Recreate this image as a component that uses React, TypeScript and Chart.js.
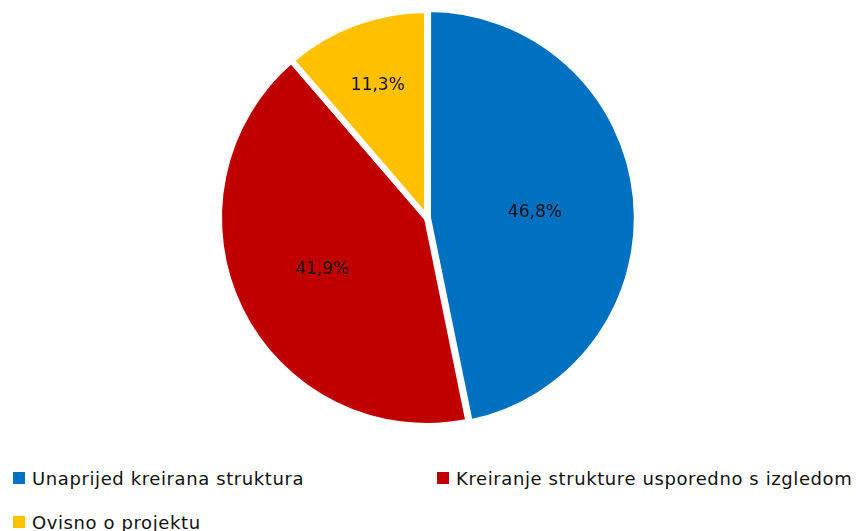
import React, { useEffect, useRef } from "react";
import { Chart, registerables } from "chart.js";

Chart.register(...registerables);

const categories = [
  "Unaprijed kreirana struktura",
  "Kreiranje strukture usporedno s izgledom",
  "Ovisno o projektu",
];
const values = [46.8, 41.9, 11.3];
const colors = ["#0070C0", "#C00000", "#FFC000"];
const sliceOffsets = [4, 0, 0];
const labelRadiusFactors = [0.5, 0.56, 0.68];
const labelAngleShiftDeg = [3, 0, 0];

const FONT = "'DejaVu Sans', sans-serif";

const labelPlugin = {
  id: "sliceLabels",
  afterDatasetsDraw(chart: any) {
    const ctx = chart.ctx;
    const meta = chart.getDatasetMeta(0);
    ctx.save();
    ctx.fillStyle = "#111111";
    ctx.font = `17px ${FONT}`;
    ctx.textAlign = "center";
    ctx.textBaseline = "middle";
    meta.data.forEach((arc: any, i: number) => {
      const { x, y, startAngle, endAngle, outerRadius } = arc.getProps(
        ["x", "y", "startAngle", "endAngle", "outerRadius"],
        true
      );
      const mid = (startAngle + endAngle) / 2 + (labelAngleShiftDeg[i] * Math.PI) / 180;
      const r = outerRadius * labelRadiusFactors[i] + sliceOffsets[i];
      const px = x + Math.cos(mid) * r;
      const py = y + Math.sin(mid) * r;
      const txt = values[i].toFixed(1).replace(".", ",") + "%";
      ctx.fillText(txt, px, py);
    });
    ctx.restore();
  },
};

export default function App() {
  const ref = useRef<HTMLCanvasElement>(null);
  useEffect(() => {
    if (!ref.current) return;
    const chart = new Chart(ref.current, {
      type: "pie",
      data: {
        labels: categories,
        datasets: [
          {
            data: values,
            backgroundColor: colors,
            borderColor: "#ffffff",
            borderWidth: 6,
            offset: sliceOffsets,
          },
        ],
      },
      options: {
        responsive: false,
        animation: false,
        layout: { padding: { top: 5, bottom: 9, left: 0, right: 2 } },
        plugins: {
          legend: { display: false },
          tooltip: { enabled: false },
        },
      },
      plugins: [labelPlugin],
    } as any);
    return () => chart.destroy();
  }, []);

  const legendPos = [
    { left: 13, top: 472 },
    { left: 437, top: 472 },
    { left: 13, top: 516 },
  ];

  return (
    <div
      style={{
        position: "absolute",
        left: 0,
        top: 0,
        width: 856,
        height: 531,
        overflow: "hidden",
        background: "#ffffff",
        fontFamily: FONT,
      }}
    >
      <canvas ref={ref} width={856} height={440} style={{ display: "block" }} />
      {categories.map((c, i) => (
        <div
          key={c}
          style={{
            position: "absolute",
            left: legendPos[i].left,
            top: legendPos[i].top - 4,
            height: 20,
            display: "flex",
            alignItems: "center",
            whiteSpace: "nowrap",
            fontSize: 18,
            letterSpacing: 0.6,
            color: "#111111",
          }}
        >
          <span
            style={{
              display: "inline-block",
              width: 12,
              height: 12,
              background: colors[i],
              marginRight: 7,
            }}
          />
          <span>{c}</span>
        </div>
      ))}
    </div>
  );
}
